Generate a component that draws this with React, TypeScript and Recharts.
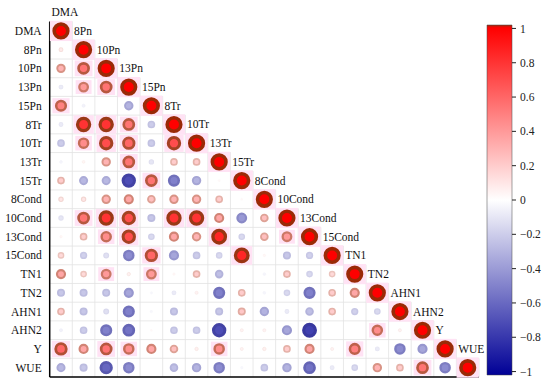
import {
  Bar,
  BarChart,
  ReferenceLine,
  Scatter,
  ScatterChart,
  XAxis,
  YAxis,
} from "recharts";

// variable names, top to bottom / left to right
const names = [
  "DMA", "8Pn", "10Pn", "13Pn", "15Pn", "8Tr", "10Tr", "13Tr", "15Tr",
  "8Cond", "10Cond", "13Cond", "15Cond", "TN1", "TN2", "AHN1", "AHN2", "Y", "WUE",
];

// lower triangle, one row per variable (diagonal = 1 is left out)
const rDMA: number[] = [];
const r8Pn = [0.08];
const r10Pn = [0.3, 0.55];
const r13Pn = [-0.08, 0.4, 0.55];
const r15Pn = [0.5, -0.05, 0, -0.3];
const r8Tr = [-0.08, 0.8, 0.8, 0.55, -0.2];
const r10Tr = [-0.2, 0.45, 0.7, 0.6, -0.2, 0.7];
const r13Tr = [-0.04, 0.04, 0.3, 0.55, -0.1, 0.2, 0.2];
const r15Tr = [0.2, -0.28, -0.28, -0.7, 0.55, -0.5, -0.3, 0.02];
const r8Cond = [0.1, 0.1, 0.3, 0.35, 0.25, 0.3, 0.3, 0.2, 0.02];
const r10Cond = [-0.1, 0.55, 0.8, 0.7, -0.22, 0.8, 0.8, 0.35, -0.4, 0.25];
const r13Cond = [0.03, 0.2, 0.45, 0.7, -0.15, 0.35, 0.3, 0.85, -0.15, 0.25, 0.4];
const r15Cond = [0.15, -0.18, -0.12, -0.45, 0.6, -0.35, -0.2, -0.15, 0.85, 0.03, -0.22, -0.18];
const rTN1 = [0.35, 0.15, 0.4, 0.06, 0.4, 0.03, 0.2, -0.25, 0, -0.04, 0.2, -0.15, 0.15];
const rTN2 = [-0.22, -0.22, -0.22, -0.35, -0.03, -0.08, 0.05, -0.5, 0.2, -0.04, -0.15, -0.5, 0.2, 0.35];
const rAHN1 = [0.2, -0.22, -0.12, -0.5, -0.03, -0.22, 0, -0.22, 0.22, -0.3, -0.08, -0.25, 0.2, -0.18, -0.15];
const rAHN2 = [-0.05, -0.2, -0.5, -0.55, 0.02, -0.2, -0.2, -0.7, 0.05, 0.05, -0.35, -0.75, 0, 0, 0.45, 0.05];
const rY = [0.6, 0.35, 0.55, 0.45, 0.35, 0.25, 0.06, 0.45, 0.05, 0.06, 0.2, 0.35, 0.05, 0.5, -0.08, -0.45, -0.35];
const rWUE = [-0.28, -0.22, -0.6, -0.45, 0, -0.25, -0.3, -0.45, -0.03, -0.2, -0.3, -0.55, -0.08, -0.15, 0.3, 0.2, 0.55, -0.45];

const rows = [
  rDMA, r8Pn, r10Pn, r13Pn, r15Pn, r8Tr, r10Tr, r13Tr, r15Tr, r8Cond,
  r10Cond, r13Cond, r15Cond, rTN1, rTN2, rAHN1, rAHN2, rY, rWUE,
];

const cbTicks = [-1, -0.8, -0.6, -0.4, -0.2, 0, 0.2, 0.4, 0.6, 0.8, 1];

const FONT = "Liberation Serif";
const CELL_H = (377 - 21.6) / 19;
const MAX_R = 8.6;

type Pt = { x: number; y: number; v: number; diag: boolean };

const points: Pt[] = [];
rows.forEach((row, r) => {
  row.forEach((v, c) => points.push({ x: c, y: r, v, diag: false }));
  points.push({ x: r, y: r, v: 1, diag: true });
});

function mix(a: number[], b: number[], t: number) {
  return a.map((x, i) => Math.round(x * (1 - t) + b[i] * t));
}

function fillOf(v: number) {
  if (v >= 0) return [255, 255 * (1 - v), 255 * (1 - v)];
  const a = -v;
  return [255 * (1 - a), 255 * (1 - a), 255 - a * 105];
}

const rgb = (c: number[]) => `rgb(${c.map(Math.round).join(",")})`;

function Bubble(props: any) {
  const { cx, cy, payload } = props;
  const v: number = payload.v;
  const a = Math.abs(v);
  const r = MAX_R * Math.sqrt(a);
  const fill = fillOf(v);
  const ring =
    v >= 0
      ? mix(fill, [110, 60, 10], Math.min(0.7, 0.9 * a))
      : mix(fill, [30, 30, 100], 0.3 * a);
  const sw = r * 0.42;
  return (
    <g>
      {v >= 0.4 && (
        <rect
          x={cx - r - 2.5}
          y={cy - r - 1.5}
          width={2 * r + 5}
          height={2 * r + 3}
          fill="#ffe2f4"
        />
      )}
      {r > 0.3 && (
        <circle
          cx={cx}
          cy={cy}
          r={Math.max(r - sw / 2, 0.3)}
          fill={rgb(fill)}
          stroke={rgb(ring)}
          strokeWidth={sw}
        />
      )}
      {payload.diag && (
        <text
          x={cx - 9.5}
          y={cy - CELL_H}
          dominantBaseline="central"
          style={{ fontFamily: FONT, fontSize: 11.5 }}
          fill="#111"
        >
          {names[payload.x]}
        </text>
      )}
    </g>
  );
}

const idx = names.map((_, i) => i);

function ColorBar() {
  return (
    <BarChart
      width={80}
      height={386}
      data={[{ name: "cb", range: [-1.02, 1.02] }]}
      margin={{ top: 25, right: 0, bottom: 11, left: 17 }}
      barCategoryGap={0}
    >
      <defs>
        <linearGradient id="cbGrad" x1="0" y1="0" x2="0" y2="1">
          <stop offset="0%" stopColor="#a02a10" />
          <stop offset="0.8%" stopColor="#ff0000" />
          <stop offset="50%" stopColor="#ffffff" />
          <stop offset="100%" stopColor="#000096" />
        </linearGradient>
      </defs>
      <XAxis dataKey="name" hide />
      <YAxis
        orientation="right"
        width={38}
        type="number"
        domain={[-1.02, 1.02]}
        ticks={cbTicks}
        interval={0}
        axisLine={false}
        tickLine={{ stroke: "#222" }}
        tickSize={4}
        tickMargin={4}
        tick={{ fontFamily: FONT, fontSize: 11.5, fill: "#222", textAnchor: "start" }}
        tickFormatter={(t: number) => String(t).replace("-", "\u2212")}
      />
      <Bar dataKey="range" fill="url(#cbGrad)" stroke="#444" strokeWidth={0.5} isAnimationActive={false} />
    </BarChart>
  );
}

export default function App() {
  return (
    <div
      style={{
        position: "relative",
        width: 550,
        height: 386,
        background: "#fff",
        fontFamily: FONT,
      }}
    >
      <style>{`body{margin:0} .recharts-text{font-family:"Liberation Serif",serif}`}</style>
      <ScatterChart
        width={550}
        height={386}
        margin={{ top: 21.6, right: 71, bottom: 8, left: 0 }}
      >
        <XAxis
          type="number"
          dataKey="x"
          domain={[-0.5, 18.5]}
          height={1}
          tick={false}
          tickLine={false}
          axisLine={{ stroke: "#000", strokeWidth: 1.5 }}
        />
        <YAxis
          type="number"
          dataKey="y"
          reversed
          domain={[-0.5, 18.5]}
          ticks={idx}
          interval={0}
          width={49.7}
          tickLine={false}
          tickSize={6}
          tickMargin={2}
          axisLine={{ stroke: "#000", strokeWidth: 1.5 }}
          tick={{ fontFamily: FONT, fontSize: 11.5, fill: "#111" }}
          tickFormatter={(i: number) => names[i]}
        />
        {idx.map((k) => (
          <ReferenceLine
            key={`h${k}`}
            segment={[
              { x: -0.5, y: k - 0.5 },
              { x: k + 0.5, y: k - 0.5 },
            ]}
            stroke="#e2e2e2"
            strokeWidth={0.8}
          />
        ))}
        {idx.map((k) => (
          <ReferenceLine
            key={`v${k}`}
            segment={[
              { x: k + 0.5, y: k - 0.5 },
              { x: k + 0.5, y: 18.5 },
            ]}
            stroke="#e2e2e2"
            strokeWidth={0.8}
          />
        ))}
        <Scatter data={points} shape={<Bubble />} isAnimationActive={false} />
      </ScatterChart>
      <div style={{ position: "absolute", left: 470, top: 0 }}>
        <ColorBar />
      </div>
    </div>
  );
}
